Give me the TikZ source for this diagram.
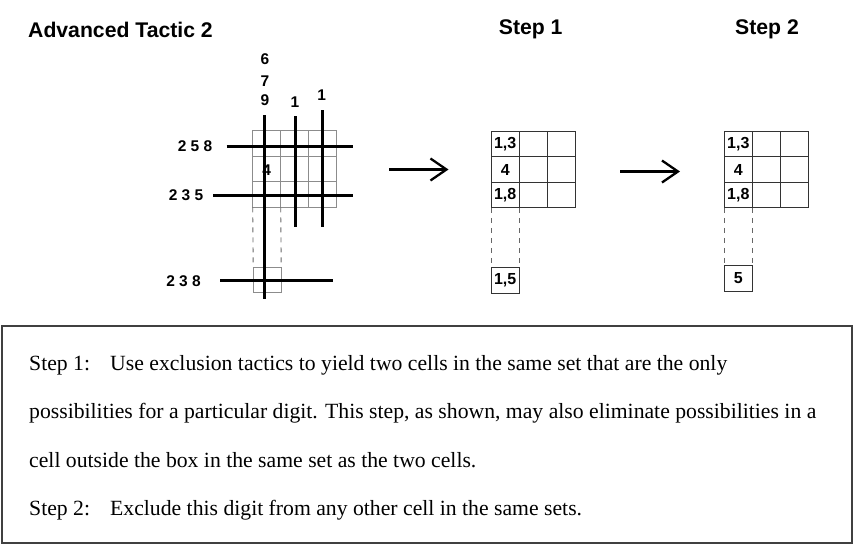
\documentclass[tikz,border=0pt]{standalone}
\usepackage{fontspec}
\setmainfont{Liberation Serif}
\setsansfont{Liberation Sans}
\usetikzlibrary{arrows.meta,positioning}

\begin{document}
\begin{tikzpicture}[
      x=1pt, y=-1pt,
      cell/.style={minimum width=28pt, minimum height=25.5pt, inner sep=0pt, outer sep=0pt,
        font=\sffamily\bfseries\fontsize{16}{18}\selectfont},
      gcell/.style={cell, draw=black!45, line width=0.9pt},
      bcell/.style={cell, draw=black!80, line width=0.9pt},
      cand/.style={font=\sffamily\bfseries\fontsize{15.5}{17}\selectfont, inner sep=0pt},
      heading/.style={font=\sffamily\bfseries\fontsize{21.2}{24}\selectfont, inner sep=0pt},
      heavy/.style={line width=3pt},
      link/.style={dash pattern=on 5pt off 5pt, line width=0.9pt, black!60},
      arr/.style={-{Straight Barb[length=16pt, width=22pt]}, line width=2.3pt},
      body/.style={anchor=base west, inner sep=0pt, font=\fontsize{21.7}{25}\selectfont},
      frame/.style={draw=black!75, line width=2pt, minimum width=850pt, minimum height=216.5pt, inner sep=0pt}
    ]
      \useasboundingbox (0,0) rectangle (853,550);

      % headings
      \node[heading, anchor=west] (title) at (28,29.5) {Advanced Tactic 2};
      \node[heading] (head1) at (530.7,29.5) {Step 1};
      \node[heading] (head2) at (767,29.5) {Step 2};

      % starting box with candidate lines
      \foreach \r in {0,1,2}
        \foreach \c in {0,1,2}
          \node[gcell] (a\r\c) at (266.7+28*\c, 143.5+25.5*\r) {};
      \node[gcell] (a30) at (267.2,280) {};
      \draw[link] (a20.south west) -- (a30.north west);
      \draw[link] (a20.south east) -- (a30.north east);
      \draw[heavy] (264.3,115) -- (264.3,299);
      \draw[heavy] (295.7,116) -- (295.7,227);
      \draw[heavy] (322.7,110) -- (322.7,227);
      \draw[heavy] (226.7,146) -- (353.3,146);
      \draw[heavy] (213.3,195) -- (353.3,195);
      \draw[heavy] (220,280.7) -- (332.7,280.7);
      \node[cand] (row1) at (195,146) {2 5 8};
      \node[cand] (row2) at (186,195) {2 3 5};
      \node[cand] (row3) at (183.5,280.7) {2 3 8};
      \node[cand] (col1a) at (265,59.3) {6};
      \node[cand] (col1b) at (265,81) {7};
      \node[cand] (col1c) at (265,100) {9};
      \node[cand] (col2) at (295,101.7) {1};
      \node[cand] (col3) at (321.7,95) {1};
      \node[cand] (given) at (266.7,170) {4};

      % step 1
      \foreach \r/\t in {0/{1,3},1/4,2/{1,8}} {
        \node[bcell] (b\r0) at (505.2, 144+25.5*\r) {\t};
        \node[bcell] (b\r1) at (533.2, 144+25.5*\r) {};
        \node[bcell] (b\r2) at (561.2, 144+25.5*\r) {};
      }
      \node[bcell] (b30) at (505.2,280.3) {1,5};
      \draw[link] (b20.south west) -- (b30.north west);
      \draw[link] (b20.south east) -- (b30.north east);

      % step 2
      \foreach \r/\t in {0/{1,3},1/4,2/{1,8}} {
        \node[bcell] (c\r0) at (738.3, 144+25.5*\r) {\t};
        \node[bcell] (c\r1) at (766.3, 144+25.5*\r) {};
        \node[bcell] (c\r2) at (794.3, 144+25.5*\r) {};
      }
      \node[bcell] (c30) at (738.3,278.2) {5};
      \draw[link] (c20.south west) -- (c30.north west);
      \draw[link] (c20.south east) -- (c30.north east);

      % arrows
      \coordinate (go1) at (389,169.5);
      \coordinate (to1) at (448.5,169.5);
      \coordinate (go2) at (620,171.5);
      \coordinate (to2) at (680,171.5);
      \draw[arr] (go1) -- (to1);
      \draw[arr] (go2) -- (to2);

      % explanation
      \node[frame] (note) at (426.5,434.25) {};
      \node[body] (line1) at (29,370) {\makebox[81pt][l]{Step 1:}Use exclusion tactics to yield two cells in the same set that are the only};
      \node[body] (line2) at (29,418.5) {possibilities for a particular digit. This step, as shown, may also eliminate possibilities in a};
      \node[body] (line3) at (29,467) {cell outside the box in the same set as the two cells.};
      \node[body] (line4) at (29,515.5) {\makebox[81pt][l]{Step 2:}Exclude this digit from any other cell in the same sets.};
    \end{tikzpicture}
\end{document}
